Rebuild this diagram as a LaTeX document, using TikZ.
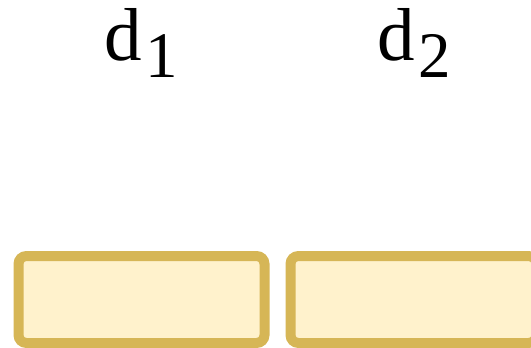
\documentclass[tikz,border=0pt]{standalone}
\usepackage{fontspec}
\setmainfont{Liberation Serif}
\usepackage{xcolor}
\usetikzlibrary{shapes,positioning}

\definecolor{boxfill}{HTML}{FFF2CC}
\definecolor{boxline}{HTML}{D6B656}

\newcommand{\dlabel}[1]{d\kern3pt{\fontsize{65}{65}\selectfont\raisebox{-17pt}{#1}}}

\tikzset{
  slot/.style={draw=boxline,fill=boxfill,line width=10pt,rounded corners=8pt,
    minimum width=246pt,minimum height=87pt,inner sep=0pt},
  tag/.style={font=\fontsize{75}{75}\selectfont,inner sep=0pt,anchor=base}
}

\begin{document}
\begin{tikzpicture}[x=1pt,y=-1pt]
\useasboundingbox (0,0) rectangle (531,348);
% the two slots
\node[slot] (box1) at (141.5,299.5) {};
\node[slot] (box2) at (413.5,299.5) {};
% labels above them
\node[tag] (lbl1) at (141,60) {\dlabel{1}};
\node[tag] (lbl2) at (414,60) {\dlabel{2}};
\end{tikzpicture}
\end{document}
